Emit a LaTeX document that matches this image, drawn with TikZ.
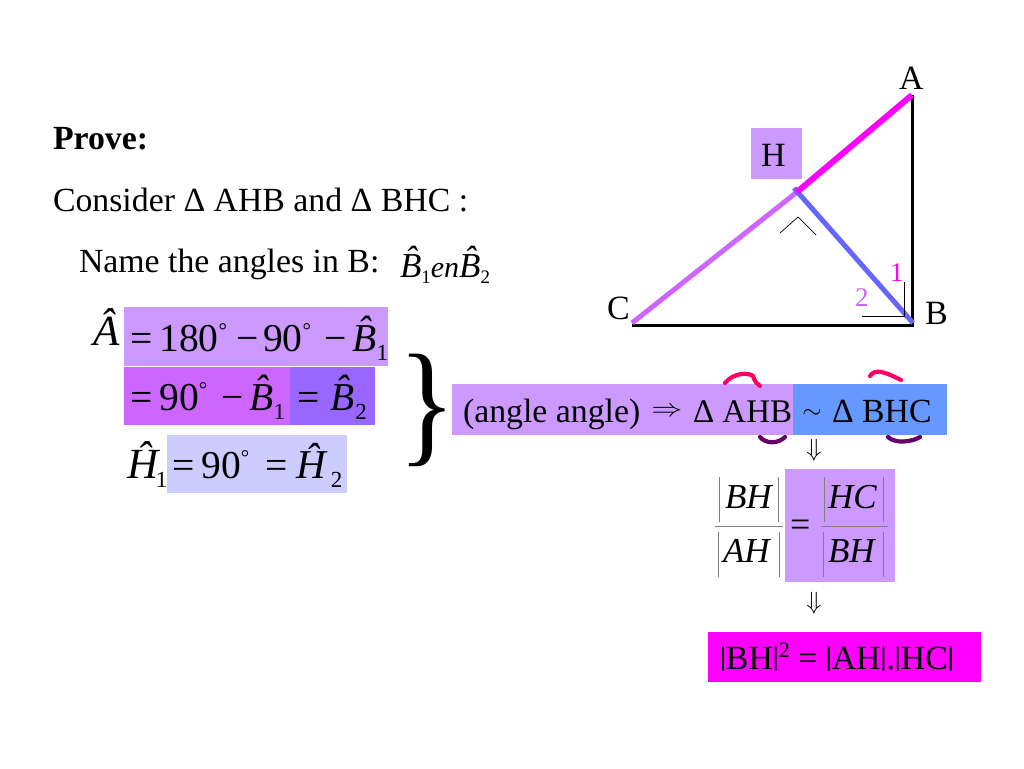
\documentclass[tikz,border=0pt]{standalone}
\usepackage{amsmath}
\usepackage{fontspec}
\setmainfont{Liberation Serif}
\usepackage{tikz}
\usetikzlibrary{arrows}
\definecolor{lilac}{HTML}{CC99FF}
\definecolor{violet}{HTML}{CC66FF}
\definecolor{indigo}{HTML}{9966FF}
\definecolor{periwinkle}{HTML}{CCCCFF}
\definecolor{skyblue}{HTML}{6699FF}
\definecolor{slateblue}{HTML}{6666FF}
\definecolor{rosered}{HTML}{FF0066}
\definecolor{plum}{HTML}{660066}
\definecolor{fuchsia}{HTML}{FF00FF}
\newcommand{\fsz}[1]{\fontsize{#1}{#1}\selectfont}
\newcommand{\hatb}{\textit{B}\makebox[0pt][r]{\raisebox{0.19em}{\textit{ˆ}}\kern0.1em}}
\newcommand{\subn}[1]{\raisebox{-9pt}{\fontsize{23}{23}\selectfont #1}}
\newcommand{\subm}[1]{\raisebox{-6pt}{\fontsize{19}{19}\selectfont #1}}
\newcommand{\degr}{\raisebox{14pt}{\fontsize{21}{21}\selectfont °}}
\newcommand{\pipe}{\raisebox{4pt}{\fontsize{27}{27}\selectfont\bfseries |}}
\tikzstyle{txt} = [inner sep=0pt,outer sep=0pt,anchor=base west]
\tikzstyle{fillbox} = [inner sep=0pt,outer sep=0pt,anchor=north west,draw=none]
\tikzstyle{bar} = [gray,line width=0.7pt]
\tikzstyle{swoop} = [line width=4.2pt,line cap=round]

\begin{document}
\begin{tikzpicture}[x=1pt,y=-1pt]
	\useasboundingbox (0,0) rectangle (1024,768);

	% Coloured boxes:
	\node [fillbox,fill=lilac,minimum width=51,minimum height=51] (boxh) at (751,128) {};
	\node [fillbox,fill=lilac,minimum width=264,minimum height=59] (boxa) at (124,307) {};
	\node [fillbox,fill=violet,minimum width=166,minimum height=58] (boxb) at (124,367) {};
	\node [fillbox,fill=indigo,minimum width=85,minimum height=58] (boxc) at (290,367) {};
	\node [fillbox,fill=periwinkle,minimum width=180,minimum height=58] (boxd) at (167,435) {};
	\node [fillbox,fill=lilac,minimum width=341,minimum height=51] (boxe) at (452,384) {};
	\node [fillbox,fill=skyblue,minimum width=154,minimum height=51] (boxf) at (793,384) {};
	\node [fillbox,fill=lilac,minimum width=110,minimum height=113] (boxg) at (785,469) {};
	\node [fillbox,fill=fuchsia,minimum width=273,minimum height=50] (boxi) at (708,632) {};

	% Triangle:
	\coordinate (A) at (912,95);
	\coordinate (B) at (912,325);
	\coordinate (C) at (632,325);
	\coordinate (H) at (797,192);
	\coordinate (Ht) at (794,188);
	\coordinate (Bt) at (913,323);
	\coordinate (Ct) at (632,323);
	\draw [line width=3pt] (A) -- (B) -- (C);
	\draw [violet,line width=5pt] (Ct) -- (H);
	\draw [slateblue,line width=5pt] (Ht) -- (Bt);
	\draw [fuchsia,line width=6pt] (H) -- (A);

	% Angle marks:
	\draw [line width=0.7pt] (780,233) -- (798,217) -- (816,235);
	\draw [line width=0.7pt] (862,316) -- (904,316) -- (904,282);

	% Triangle labels:
	\node [txt] (la) at (899,89) {\fsz{34}A};
	\node [txt] (lb) at (925,324) {\fsz{34}B};
	\node [txt] (lc) at (607,319) {\fsz{34}C};
	\node [txt] (lh) at (761,166) {\fsz{34}H};
	\node [txt,text=fuchsia] (lone) at (890,281) {\fsz{27}1};
	\node [txt,text=violet] (ltwo) at (855,306) {\fsz{27}2};

	% Left text:
	\node [txt] (prove) at (53,149) {\fsz{33.8}\textbf{Prove:}};
	\node [txt] (consider) at (53,211) {\fsz{33.8}Consider Δ AHB and Δ BHC :};
	\node [txt] (name) at (79,272) {\fsz{33.8}Name the angles in B:};
	\node [txt] (names) at (400,277) {\fsz{35}\hatb\subm{1}{\fsz{30}\textit{en}}\hatb\subm{2}};

	% Equations:
	\node [txt] (eqa) at (93,345) {\fsz{43}\textit{\^A}};
	\node [txt] (eqb) at (130,351) {\fsz{39.5}=\kern7pt 180\degr\kern10pt −\kern4pt 90\degr\kern13pt −\kern6pt\hatb\subn{1}};
	\node [txt] (eqc) at (130,410) {\fsz{39.5}=\kern7pt 90\degr\kern14pt −\kern6pt\hatb\subn{1}};
	\node [txt] (eqd) at (297,410) {\fsz{39.5}=\kern11pt\hatb\kern1pt\subn{2}};
	\node [txt] (eqe) at (127,478) {\fsz{43}\textit{\^H}\kern-4pt\subn{1}};
	\node [txt] (eqf) at (172,478) {\fsz{39.5}=\kern7pt 90\degr\kern16pt =\kern9pt{\fsz{41}\textit{\^H}}\kern3pt\subn{2}};

	% Brace:
	\node [inner sep=0pt] (brace) at (427,410) {\scalebox{0.88}[1]{\fsz{136}\}}};

	% Similarity line:
	\node [txt] (sima) at (463,422) {\fsz{33.8}(angle angle)};
	\node [inner sep=0pt] (impc) at (667,412) {\scalebox{1.25}[1]{\fsz{34}\(\Rightarrow\)}};
	\node [txt] (simb) at (693,422) {\fsz{33}Δ AHB};
	\node [inner sep=0pt] (impd) at (812,414) {\fsz{34}\(\sim\)};
	\node [txt] (simc) at (832,422) {\fsz{33.8}Δ BHC};

	% Swoops over the triangle names:
	\draw [swoop,rosered] (725,383) .. controls (733,373) and (748,372) .. (753,376) .. controls (755,382) and (757,384) .. (760,386);
	\draw [swoop,rosered] (870,376) .. controls (875,368) and (885,372) .. (901,380);
	\draw [swoop,plum] (760,437) .. controls (766,444) and (778,444) .. (785,437);
	\draw [swoop,plum] (888,437) .. controls (895,444) and (912,442) .. (920,437);

	% Implications:
	\node [inner sep=0pt] (impa) at (814,450) {\fsz{48}\(\Downarrow\)};
	\node [inner sep=0pt] (impb) at (814,603) {\fsz{48}\(\Downarrow\)};

	% Fractions:
	\node [txt] (fra) at (725,508) {\fsz{35}\textit{BH}};
	\node [txt] (frb) at (723,562) {\fsz{35}\textit{AH}};
	\node [txt] (frc) at (828,508) {\fsz{35}\textit{HC}};
	\node [txt] (frd) at (828,562) {\fsz{35}\textit{BH}};
	\node [txt] (freq) at (790,536) {\fsz{36}=};
	\draw [bar] (715,526) -- (783,526);
	\draw [bar] (821,526) -- (888,526);
	\foreach \x/\y in {719/477,778/477,718/532,779/532,824/477,883/477,823/532,883/532}
	{
		\draw [bar] (\x,\y) -- (\x,\y+45);
	}

	% Result:
	\node [txt] (result) at (720,669) {\fsz{33.8}\pipe BH\pipe\raisebox{0.35em}{\fsz{22}2} = \pipe AH\pipe.\pipe HC\pipe};
\end{tikzpicture}
\end{document}
